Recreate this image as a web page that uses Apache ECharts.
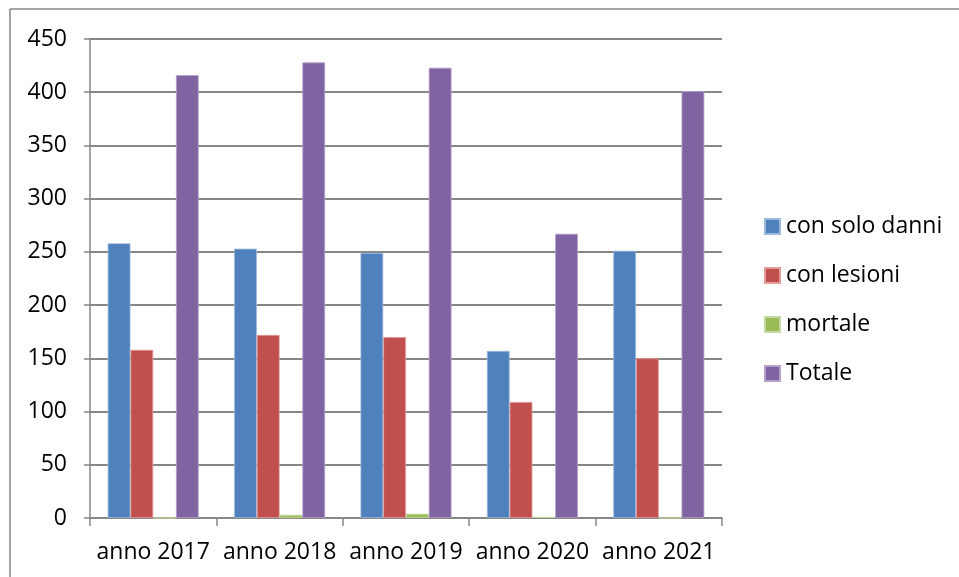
<!DOCTYPE html>
<html><head><meta charset="utf-8">
<script src="https://cdn.jsdelivr.net/npm/echarts@6/dist/echarts.min.js"></script>
<style>html,body{margin:0;padding:0;background:#fff}#c{width:959px;height:577px}</style>
</head><body><div id="c"></div>
<script>
const categories = ['anno 2017','anno 2018','anno 2019','anno 2020','anno 2021'];
const soloDanni = [258, 253, 249, 157, 251];
const lesioni = [158, 172, 170, 109, 150];
const mortale = [0, 3, 4, 1, 0];
const totale = [416, 428, 423, 267, 401];
const seriesNames = ['con solo danni','con lesioni','mortale','Totale'];
const colors = ['#4F81BD','#C0504D','#9BBB59','#8064A2'];
const borders = ['#9DB9DE','#E39C9A','#C4DAA0','#B3A1CB'];
const yTicks = {min:0, max:450, interval:50};

const font = 'Open Sans, Liberation Sans, sans-serif';
const fs = 23;
const chart = echarts.init(document.getElementById('c'), null, {renderer:'canvas'});
const data = [soloDanni, lesioni, mortale, totale];
chart.setOption({
  animation:false,
  color: colors,
  grid:{left:90, right:237, top:39, bottom:59, containLabel:false},
  legend:{
    orient:'vertical', left:759, top:210, itemGap:26, itemWidth:15, itemHeight:15,
    icon:'rect', textStyle:{fontFamily:font, fontSize:fs, lineHeight:22, color:'#000', padding:[0,0,0,1]},
    data: seriesNames
  },
  xAxis:{
    type:'category', data:categories,
    axisLine:{lineStyle:{color:'#868686', width:1.5}},
    axisTick:{show:true, interval:0, length:8, alignWithLabel:false, lineStyle:{color:'#868686', width:1.5}},
    axisLabel:{interval:0, fontFamily:font, fontSize:fs, color:'#000', margin:23}
  },
  yAxis:{
    type:'value', min:yTicks.min, max:yTicks.max, interval:yTicks.interval,
    axisLine:{show:true, lineStyle:{color:'#868686', width:1.5}},
    axisTick:{show:true, length:6, lineStyle:{color:'#868686', width:1.5}},
    splitLine:{lineStyle:{color:'#868686', width:1.8}},
    axisLabel:{fontFamily:font, fontSize:fs, color:'#000', margin:23}
  },
  series: seriesNames.map((n,i)=>({
    name:n, type:'bar', data:data[i], barGap:'0%', barCategoryGap:'28%',
    itemStyle:{color:colors[i], borderColor:borders[i], borderWidth:0.8}
  })),
  graphic:[
    {type:'line', shape:{x1:10, y1:9, x2:959, y2:9}, style:{stroke:'#868686', lineWidth:1.5}},
    {type:'line', shape:{x1:10, y1:9, x2:10, y2:577}, style:{stroke:'#868686', lineWidth:1.5}}
  ]
});
</script></body></html>
